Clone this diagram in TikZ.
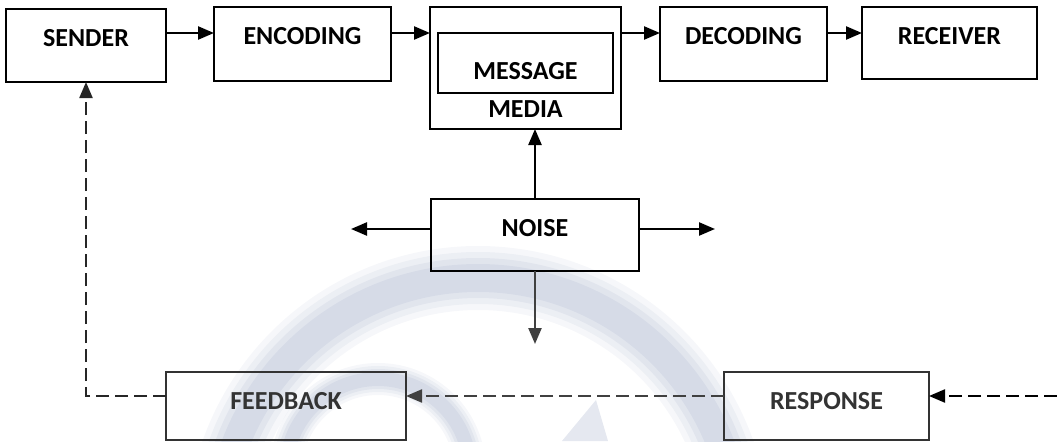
\documentclass[tikz,border=0pt]{standalone}
\usepackage{fontspec}
\setmainfont{Carlito}
\usetikzlibrary{arrows.meta}
\definecolor{wmark}{HTML}{B4BED3}

\begin{document}
\begin{tikzpicture}[x=0.5pt, y=0.5pt, >={Triangle[length=8pt,width=6.5pt]},
    blk/.style={draw, line width=1.3pt, inner sep=0pt, outer sep=0pt, anchor=north west,
      font=\fontsize{13}{15}\selectfont\bfseries, text height=18.5pt},
    faded/.style={draw=black!80, text=black!80},
    link/.style={->, line width=1.2pt},
    back/.style={->, line width=1.1pt, dash pattern=on 6.5pt off 3pt}]

    \useasboundingbox (0,0) rectangle (1057,441);

    % swirl in the background, soft edges from stacked strokes
    \begin{scope}
      \clip (0,0) rectangle (1057,441);
      \foreach \w/\o in {32/0.12, 26/0.15, 20/0.2, 14/0.25} {
        \draw[wmark, opacity=\o, line width=\w pt] (478,-97) circle[radius=130pt];
        \draw[wmark, opacity=\o, line width=0.5*\w pt] (378,-30) circle[radius=46pt];
      }
      \fill[wmark, opacity=0.35] (596,41) -- (608,0) -- (562,0) -- cycle;
    \end{scope}

    % top row
    \node[blk, minimum width=80pt, text depth=18pt] (sender) at (6,432) {SENDER};
    \node[blk, minimum width=88.5pt, text depth=18.5pt] (enc) at (214,434) {ENCODING};
    \node[blk, minimum width=95.5pt, text height=55pt, text depth=6pt] (media) at (430,434) {MEDIA};
    \node[blk, minimum width=87.5pt, text height=23pt, text depth=7pt] (msg) at (438,408) {MESSAGE};
    \node[blk, minimum width=83.5pt, text depth=18.5pt] (dec) at (660,434) {DECODING};
    \node[blk, minimum width=87.5pt, text depth=17.5pt] (rec) at (862,434) {RECEIVER};

    % noise and the way back
    \node[blk, minimum width=104pt, text depth=17.5pt] (noise) at (431,242) {NOISE};
    \node[blk, faded, minimum width=120pt, text depth=15.5pt] (feedback) at (166,69) {FEEDBACK};
    \node[blk, faded, minimum width=102.5pt, text depth=15.5pt] (response) at (724,69) {RESPONSE};

    \coordinate (row) at (0,408);
    \draw[link] (sender.east |- row) -- (enc.west |- row);
    \draw[link] (enc.east |- row) -- (media.west |- row);
    \draw[link] (media.east |- row) -- (dec.west |- row);
    \draw[link] (dec.east |- row) -- (rec.west |- row);

    \coordinate (nx) at (535,0);
    \coordinate (nl) at (351,212);
    \coordinate (nr) at (715,212);
    \coordinate (nd) at (535,97);
    \draw[link] (noise.north -| nx) -- (media.south -| nx);
    \draw[link] (noise.west |- nl) -- (nl);
    \draw[link] (noise.east |- nr) -- (nr);
    \draw[link, black!75] (noise.south -| nd) -- (nd);

    \coordinate (ret) at (1057,45);
    \coordinate (corner) at (86,45);
    \draw[back] (ret) -- (response.east |- ret);
    \draw[back, black!75] (response.west |- ret) -- (feedback.east |- ret);
    \draw[back, black!85] (feedback.west |- ret) -- (corner) -- (sender.south -| corner);
\end{tikzpicture}
\end{document}
